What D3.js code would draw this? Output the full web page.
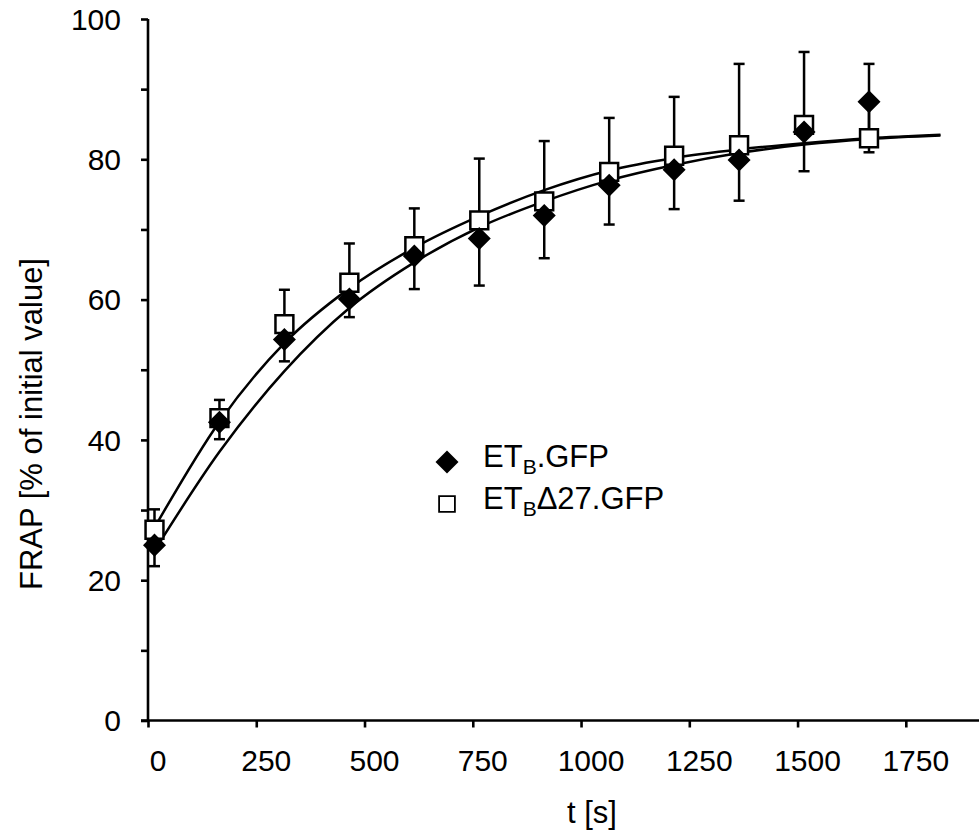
<!DOCTYPE html>
<html>
<head>
<meta charset="utf-8">
<script src="https://cdn.jsdelivr.net/npm/d3@7"></script>
<style>
  body { margin: 0; background: #fff; }
  svg { display: block; font-family: "Liberation Sans", Arial, sans-serif; }
</style>
</head>
<body>
<svg id="chart"></svg>
<script>
// sample times [s]
const times = [15, 165, 315, 465, 615, 765, 915, 1065, 1215, 1365, 1515, 1665];

// ETB.GFP (filled diamonds) - mean and lower error
const gfpMean = [25.0, 42.5, 54.3, 60.1, 66.2, 68.7, 72.0, 76.3, 78.5, 79.9, 83.9, 88.2];
const gfpErr  = [3.0, 2.4, 3.1, 2.6, 4.7, 6.7, 6.1, 5.6, 5.6, 5.8, 5.6, 7.2];

// ETBΔ27.GFP (open squares) - mean and upper error
const d27Mean = [27.2, 43.1, 56.5, 62.4, 67.6, 71.3, 74.0, 78.2, 80.5, 82.0, 84.9, 83.0];
const d27Err  = [2.9, 2.6, 4.9, 5.6, 5.4, 8.8, 8.6, 7.7, 8.4, 11.6, 10.4, 10.6];

// fitted recovery curves
const fitTimes = [15, 165, 315, 465, 615, 765, 915, 1065, 1215, 1365, 1515, 1665, 1830];
const gfpFit   = [24.2, 38.3, 49.8, 58.8, 65.3, 70.3, 74.0, 77.0, 79.2, 80.9, 82.1, 82.9, 83.4];
const d27Fit   = [27.5, 42.6, 53.8, 61.6, 67.4, 71.9, 75.6, 78.4, 80.2, 81.4, 82.3, 83.0, 83.5];

const xTicks = [0, 250, 500, 750, 1000, 1250, 1500, 1750];
const yTicks = d3.range(0, 101, 10);
const yLabels = [0, 20, 40, 60, 80, 100];

const width = 979, height = 834;
const svg = d3.select("#chart").attr("width", width).attr("height", height);

const x = d3.scaleLinear().domain([0, 1919]).range([148, 979]);
const y = d3.scaleLinear().domain([0, 100]).range([720.5, 19]);

// axes
svg.append("g")
    .attr("transform", `translate(0,${y(0)})`)
    .call(d3.axisBottom(x).tickValues(xTicks).tickSize(7).tickSizeOuter(0).tickFormat(""))
    .call(g => g.select(".domain").attr("d", `M141,0H${width}`))
    .call(g => g.selectAll("line, path").attr("stroke", "#000").attr("stroke-width", 2.6));

svg.append("g")
    .attr("transform", `translate(${x(0)},0)`)
    .call(d3.axisLeft(y).tickValues(yTicks).tickSize(7).tickSizeOuter(0).tickFormat(""))
    .call(g => g.select(".domain").attr("d", `M0,${y(100)}V${y(0)}`))
    .call(g => g.selectAll("line, path").attr("stroke", "#000").attr("stroke-width", 2.6));

// tick labels
svg.append("g").selectAll("text")
    .data(xTicks)
    .join("text")
    .attr("x", d => x(d) + 10)
    .attr("y", 771)
    .attr("text-anchor", "middle")
    .attr("font-size", 30)
    .text(d => d);

svg.append("g").selectAll("text")
    .data(yLabels)
    .join("text")
    .attr("x", 121)
    .attr("y", d => y(d))
    .attr("dy", "0.36em")
    .attr("text-anchor", "end")
    .attr("font-size", 30)
    .text(d => d);

// axis titles
svg.append("text")
    .attr("x", 592)
    .attr("y", 823)
    .attr("text-anchor", "middle")
    .attr("font-size", 31)
    .text("t [s]");

svg.append("text")
    .attr("transform", "rotate(-90)")
    .attr("x", -424)
    .attr("y", 42)
    .attr("text-anchor", "middle")
    .attr("font-size", 31)
    .text("FRAP [% of initial value]");

// fit curves
const line = d3.line()
    .x((d, i) => x(fitTimes[i]))
    .y(d => y(d))
    .curve(d3.curveMonotoneX);

[gfpFit, d27Fit].forEach(fit => {
    svg.append("path")
        .attr("fill", "none")
        .attr("stroke", "#000")
        .attr("stroke-width", 2.5)
        .attr("d", line(fit));
});

// error bars
function errorBars(mean, err, dir) {
    const g = svg.append("g").attr("stroke", "#000").attr("stroke-width", 2.5);
    g.selectAll("line.v")
        .data(mean)
        .join("line")
        .attr("x1", (d, i) => x(times[i]))
        .attr("x2", (d, i) => x(times[i]))
        .attr("y1", d => y(d))
        .attr("y2", (d, i) => y(d + dir * err[i]));
    g.selectAll("line.c")
        .data(mean)
        .join("line")
        .attr("x1", (d, i) => x(times[i]) - 5.5)
        .attr("x2", (d, i) => x(times[i]) + 5.5)
        .attr("y1", (d, i) => y(d + dir * err[i]))
        .attr("y2", (d, i) => y(d + dir * err[i]));
}
errorBars(d27Mean, d27Err, 1);
errorBars(gfpMean, gfpErr, -1);

// markers
const square = d3.symbol(d3.symbolSquare, 320);
const diamond = d3.symbol(d3.symbolSquare, 265);

svg.append("g").selectAll("path")
    .data(d27Mean)
    .join("path")
    .attr("transform", (d, i) => `translate(${x(times[i])},${y(d)})`)
    .attr("d", square)
    .attr("fill", "#fff")
    .attr("stroke", "#000")
    .attr("stroke-width", 2.5);

svg.append("g").selectAll("path")
    .data(gfpMean)
    .join("path")
    .attr("transform", (d, i) => `translate(${x(times[i])},${y(d)}) rotate(45)`)
    .attr("d", diamond)
    .attr("fill", "#000");

// legend
const legend = svg.append("g");
legend.append("path")
    .attr("transform", "translate(447,462) rotate(45)")
    .attr("d", diamond)
    .attr("fill", "#000");
legend.append("path")
    .attr("transform", "translate(447,504)")
    .attr("d", d3.symbol(d3.symbolSquare, 250))
    .attr("fill", "#fff")
    .attr("stroke", "#000")
    .attr("stroke-width", 1.8);

const t1 = legend.append("text").attr("x", 483).attr("y", 467).attr("font-size", 31);
t1.append("tspan").text("ET");
t1.append("tspan").attr("font-size", 21).attr("dy", 7).text("B");
t1.append("tspan").attr("dy", -7).text(".GFP");

const t2 = legend.append("text").attr("x", 483).attr("y", 509).attr("font-size", 31);
t2.append("tspan").text("ET");
t2.append("tspan").attr("font-size", 21).attr("dy", 7).text("B");
t2.append("tspan").attr("dy", -7).text("Δ27.GFP");
</script>
</body>
</html>
